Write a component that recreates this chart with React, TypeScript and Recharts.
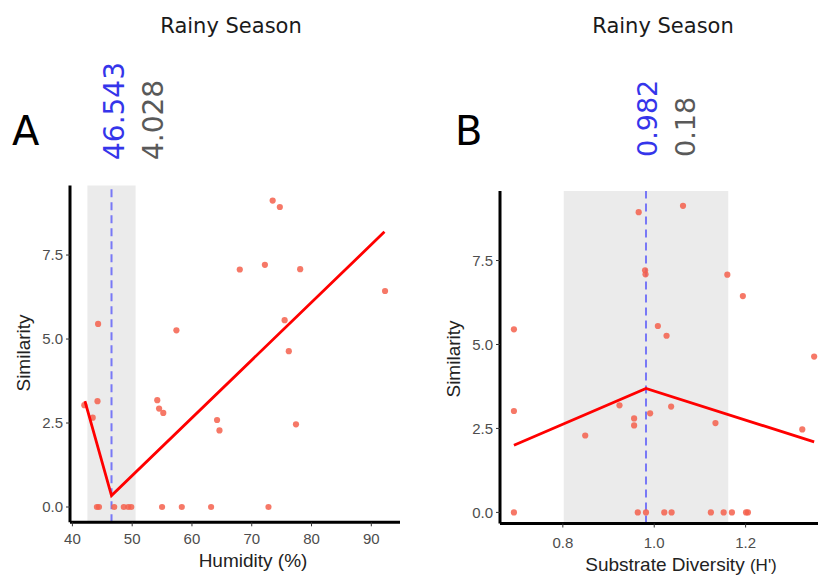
import { ScatterChart, Scatter, XAxis, YAxis, ReferenceArea, ReferenceLine } from "recharts";

// Panel A: humidity vs similarity
const humidityX = [73.5, 74.7, 68.0, 72.2, 78.1, 92.3, 44.3, 57.4, 75.5, 76.2, 42.0, 44.2, 43.4, 54.2, 54.5, 55.2, 64.2, 64.6, 77.4,
    44.1, 44.45, 47.0, 48.6, 49.35, 49.85, 55.0, 58.3, 63.2, 72.8];
const humidityY = [9.12, 8.93, 7.07, 7.21, 7.08, 6.43, 5.45, 5.26, 5.56, 4.64, 3.03, 3.15, 2.66, 3.18, 2.93, 2.80, 2.59, 2.28, 2.46,
    0, 0, 0, 0, 0, 0, 0, 0, 0, 0];
const humidityFitX = [42.1, 46.543, 92.2];
const humidityFitY = [3.15, 0.34, 8.19];
const humidityBreak = 46.543;
const humidityCI = 4.028;
const humidityTicks = [40, 50, 60, 70, 80, 90];

// Panel B: substrate diversity vs similarity
const diversityX = [0.966, 1.063, 0.980, 0.981, 1.160, 1.194, 0.693, 1.008, 1.027, 1.350, 0.693, 0.924, 1.037, 0.956, 0.991, 0.956, 1.134, 1.324, 0.849,
    0.693, 0.964, 0.982, 1.022, 1.038, 1.124, 1.152, 1.170, 1.201, 1.205];
const diversityY = [8.94, 9.13, 7.21, 7.09, 7.08, 6.44, 5.45, 5.55, 5.26, 4.64, 3.02, 3.19, 3.15, 2.80, 2.95, 2.59, 2.66, 2.47, 2.29,
    0, 0, 0, 0, 0, 0, 0, 0, 0, 0];
const diversityFitX = [0.693, 0.982, 1.350];
const diversityFitY = [2.0, 3.69, 2.10];
const diversityBreak = 0.982;
const diversityCI = 0.18;
const diversityTicks = [0.8, 1.0, 1.2];

const similarityTicks = [0, 2.5, 5, 7.5];

const zip = (xs: number[], ys: number[]) => xs.map((x, i) => ({ x, y: ys[i] }));

const tickStyle = { fontSize: 15, fill: "#4d4d4d", fontFamily: "Liberation Sans, Arial, sans-serif" };

const Dot = (props: any) => (
    <circle cx={props.cx} cy={props.cy} r={3.1} fill="#f5604c" fillOpacity={0.85} />
);
const NoDot = () => <g />;

function Panel(props: {
    left: number; width: number; top: number; bottom: number; yAxisWidth: number; right: number;
    xDomain: [number, number]; yDomain: [number, number]; xTicks: number[]; xFmt: (v: number) => string;
    points: { x: number; y: number }[]; fit: { x: number; y: number }[];
    brk: number; ci: number; xTickMargin: number;
}) {
    const h = 577;
    return (
        <div style={{ position: "absolute", left: props.left, top: 0 }}>
            <ScatterChart
                width={props.width}
                height={h}
                margin={{ top: props.top, right: props.right, bottom: 0, left: 0 }}
            >
                <XAxis
                    type="number"
                    dataKey="x"
                    domain={props.xDomain}
                    ticks={props.xTicks}
                    tickFormatter={props.xFmt}
                    allowDataOverflow
                    height={h - props.bottom}
                    axisLine={{ stroke: "#000", strokeWidth: 3 }}
                    tickLine={{ stroke: "#333", strokeWidth: 1 }}
                    tickSize={4}
                    tickMargin={props.xTickMargin}
                    tick={tickStyle}
                />
                <YAxis
                    type="number"
                    dataKey="y"
                    domain={props.yDomain}
                    ticks={similarityTicks}
                    tickFormatter={(v: number) => v.toFixed(1)}
                    allowDataOverflow
                    width={props.yAxisWidth}
                    axisLine={{ stroke: "#000", strokeWidth: 3 }}
                    tickLine={{ stroke: "#333", strokeWidth: 1 }}
                    tickSize={4}
                    tickMargin={3}
                    tick={tickStyle}
                />
                <ReferenceArea
                    x1={props.brk - props.ci}
                    x2={props.brk + props.ci}
                    fill="#ebebeb"
                    fillOpacity={1}
                    stroke="none"
                />
                <ReferenceLine x={props.brk} stroke="#7878f6" strokeWidth={2} strokeDasharray="8 5" />
                <Scatter data={props.points} shape={Dot} isAnimationActive={false} />
                <Scatter
                    data={props.fit}
                    shape={NoDot}
                    line={{ stroke: "#ff0000", strokeWidth: 2.8 }}
                    isAnimationActive={false}
                />
            </ScatterChart>
        </div>
    );
}

const titleFont = "DejaVu Sans, Verdana, sans-serif";
const labelFont = "Liberation Sans, Arial, sans-serif";

export default function App() {
    return (
        <div style={{ position: "absolute", left: 0, top: 0, width: 818, height: 577, overflow: "hidden", background: "#fff" }}>
            <Panel
                left={0}
                width={420}
                top={185.5}
                bottom={522.3}
                yAxisWidth={70}
                right={20}
                xDomain={[39.6, 94.8]}
                yDomain={[-0.455, 9.57]}
                xTicks={humidityTicks}
                xFmt={(v) => String(v)}
                points={zip(humidityX, humidityY)}
                fit={zip(humidityFitX, humidityFitY)}
                brk={humidityBreak}
                ci={humidityCI}
                xTickMargin={7}
            />
            <Panel
                left={420}
                width={415}
                top={191}
                bottom={523.5}
                yAxisWidth={80}
                right={4.4}
                xDomain={[0.6625, 1.386]}
                yDomain={[-0.33, 9.57]}
                xTicks={diversityTicks}
                xFmt={(v) => v.toFixed(1)}
                points={zip(diversityX, diversityY)}
                fit={zip(diversityFitX, diversityFitY)}
                brk={diversityBreak}
                ci={diversityCI}
                xTickMargin={10}
            />
            <svg width={818} height={577} style={{ position: "absolute", left: 0, top: 0, pointerEvents: "none" }}>
                <text x={231} y={33} textAnchor="middle" fontFamily={titleFont} fontSize={21} fill="#1a1a1a">Rainy Season</text>
                <text x={663} y={33} textAnchor="middle" fontFamily={titleFont} fontSize={21} fill="#1a1a1a">Rainy Season</text>
                <text x={12} y={145} fontFamily={titleFont} fontSize={40} fill="#000">A</text>
                <text x={455} y={145} fontFamily={titleFont} fontSize={40} fill="#000">B</text>
                <text transform="translate(124,160) rotate(-90)" fontFamily={titleFont} fontSize={28} fill="#3535ea">{String(humidityBreak)}</text>
                <text transform="translate(163,160) rotate(-90)" fontFamily={titleFont} fontSize={28} fill="#595959">{String(humidityCI)}</text>
                <text transform="translate(657,157) rotate(-90)" fontFamily={titleFont} fontSize={27} fill="#3535ea">{String(diversityBreak)}</text>
                <text transform="translate(695,157) rotate(-90)" fontFamily={titleFont} fontSize={27} fill="#595959">{String(diversityCI)}</text>
                <text transform="translate(30,353) rotate(-90)" textAnchor="middle" fontFamily={labelFont} fontSize={19} fill="#222">Similarity</text>
                <text transform="translate(460,359) rotate(-90)" textAnchor="middle" fontFamily={labelFont} fontSize={19} fill="#222">Similarity</text>
                <text x={253} y={567} textAnchor="middle" fontFamily={labelFont} fontSize={19} fill="#222">Humidity (%)</text>
                <text x={681} y={571} textAnchor="middle" fontFamily={labelFont} fontSize={19} fill="#222">
                    Substrate Diversity <tspan fontSize={17}>(H')</tspan>
                </text>
            </svg>
        </div>
    );
}
